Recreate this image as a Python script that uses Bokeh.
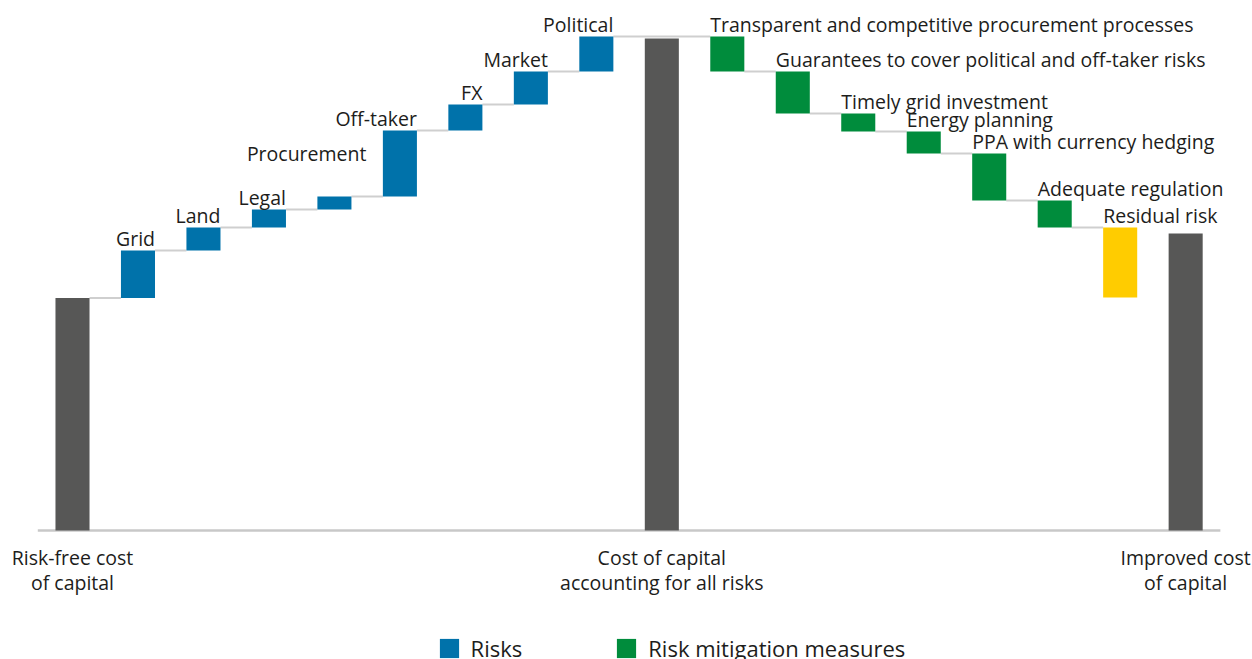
from bokeh.plotting import figure
from bokeh.models import ColumnDataSource, Range1d, Legend, LegendItem
from bokeh.core.properties import value
from bokeh.embed import file_html
from bokeh.resources import INLINE

# Waterfall steps, in drawing order
labels = [
    "Risk-free cost\nof capital",
    "Grid", "Land", "Legal", "Procurement", "Off-taker", "FX", "Market", "Political",
    "Cost of capital\naccounting for all risks",
    "Transparent and competitive procurement processes",
    "Guarantees to cover political and off-taker risks",
    "Timely grid investment",
    "Energy planning",
    "PPA with currency hedging",
    "Adequate regulation",
    "Residual risk",
    "Improved cost\nof capital",
]
kinds = ["start"] + ["risk"] * 8 + ["total"] + ["mitigation"] * 6 + ["residual", "total"]
# step sizes (totals are absolute levels)
values = [23.25, 4.75, 2.3, 1.8, 1.3, 6.6, 2.6, 3.3, 3.5,
          49.2,
          -3.5, -4.2, -1.8, -2.2, -4.7, -2.7,
          -7.0,
          29.7]

COLORS = {"start": "#575756", "total": "#575756", "risk": "#0072AA",
          "mitigation": "#008C3C", "residual": "#FFCC00"}
FONT = "Open Sans"
FONT_SIZE = "19.5px"
LEGEND_FONT_SIZE = "22px"
TEXT_COLOR = "#1d1d1b"
BAR_W = 0.52
STEP_PX = 65.48      # pixels between neighbouring bars
UNIT_PX = 10.0       # pixels per value unit
W, H = 1252, 659
FIRST_X_PX, BASE_Y_PX = 72, 530
LABEL_GAP = -12      # screen offset of step labels above their bar
CAPTION_OFFSETS = (27, 52)

# per-label nudges (pixels) where the default spot would collide
label_nudge = {"Procurement": (15, -31)}

# running totals -> bar extents
n = len(labels)
xs = list(range(n))
bottoms, tops, ends = [], [], []
running = 0.0
for k, v in zip(kinds, values):
    if k == "start":
        bottoms.append(0.0); tops.append(v); running = v
    elif k == "total":
        bottoms.append(0.0); tops.append(v)
    else:
        bottoms.append(running); tops.append(running + v); running += v
    ends.append(running)

p = figure(width=W, height=H, output_backend="svg", toolbar_location=None,
           x_axis_type=None, y_axis_type=None, min_border=0,
           x_range=Range1d(-FIRST_X_PX / STEP_PX, (W - FIRST_X_PX) / STEP_PX),
           y_range=Range1d(-(H - BASE_Y_PX) / UNIT_PX, BASE_Y_PX / UNIT_PX))
p.grid.visible = False
p.outline_line_color = None
p.background_fill_color = "white"
p.border_fill_color = "white"

# baseline
p.segment(x0=[-0.53], y0=[0], x1=[n - 1 + 0.53], y1=[0],
          line_color="#c8c8c8", line_width=2.5)

# connectors between consecutive steps (totals are skipped over)
cx0, cx1, cy = [], [], []
for i, k in enumerate(kinds):
    if k not in ("start", "risk", "mitigation"):
        continue
    j = next((j for j in range(i + 1, n) if kinds[j] != "total"), None)
    if j is None:
        continue
    cx0.append(i + BAR_W / 2); cx1.append(j - BAR_W / 2); cy.append(ends[i])
p.segment(x0=cx0, y0=cy, x1=cx1, y1=cy, line_color="#cfcfcf", line_width=2)

# bars, one renderer per colour group
renderers = {}
for group, members in [("gray", ("start", "total")), ("risk", ("risk",)),
                       ("mitigation", ("mitigation",)), ("residual", ("residual",))]:
    idx = [i for i in range(n) if kinds[i] in members]
    src = ColumnDataSource(dict(x=[xs[i] for i in idx],
                                top=[max(tops[i], bottoms[i]) for i in idx],
                                bottom=[min(tops[i], bottoms[i]) for i in idx]))
    renderers[group] = p.vbar(x="x", width=BAR_W, top="top", bottom="bottom", source=src,
                              fill_color=COLORS[kinds[idx[0]]], line_color=None)

text_kw = dict(text_font=value(FONT), text_font_size=value(FONT_SIZE),
               text_color=TEXT_COLOR, text_baseline="alphabetic")

# risk labels: right edge of the bar, just above it
rl = dict(x=[], y=[], text=[], dx=[], dy=[])
# mitigation labels: left edge of the bar, just above it
ml = dict(x=[], y=[], text=[], dx=[], dy=[])
for i, k in enumerate(kinds):
    if k == "risk":
        d, xe = rl, i + BAR_W / 2
    elif k in ("mitigation", "residual"):
        d, xe = ml, i - BAR_W / 2
    else:
        continue
    ndx, ndy = label_nudge.get(labels[i], (0, 0))
    d["x"].append(xe); d["y"].append(max(tops[i], bottoms[i]))
    d["text"].append(labels[i]); d["dx"].append(ndx); d["dy"].append(LABEL_GAP + ndy)
p.text(x="x", y="y", text="text", x_offset="dx", y_offset="dy",
       source=ColumnDataSource(rl), text_align="right", **text_kw)
p.text(x="x", y="y", text="text", x_offset="dx", y_offset="dy",
       source=ColumnDataSource(ml), text_align="left", **text_kw)

# two-line captions under the level bars
for line_no, off in enumerate(CAPTION_OFFSETS):
    bl = dict(x=[], y=[], text=[])
    for i, k in enumerate(kinds):
        if k in ("start", "total"):
            bl["x"].append(i); bl["y"].append(0)
            bl["text"].append(labels[i].split("\n")[line_no])
    p.text(x="x", y="y", text="text", y_offset=off, source=ColumnDataSource(bl),
           text_align="center", **text_kw)

legend = Legend(items=[LegendItem(label="Risks", renderers=[renderers["risk"]]),
                       LegendItem(label="Risk mitigation measures",
                                  renderers=[renderers["mitigation"]])],
                orientation="horizontal", location=(436.6, -4), margin=0, padding=0,
                spacing=92, glyph_width=24, glyph_height=24, label_standoff=10,
                label_text_font=FONT, label_text_font_size=LEGEND_FONT_SIZE,
                label_text_color=TEXT_COLOR, border_line_color=None,
                background_fill_alpha=0)
p.add_layout(legend)

open("out.html", "w").write(file_html(p, INLINE))
